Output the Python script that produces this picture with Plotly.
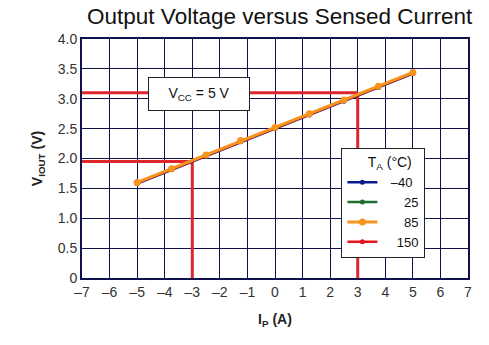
import plotly.graph_objects as go

# Data
ip_amps = [-5, -3.75, -2.5, -1.25, 0, 1.25, 2.5, 3.75, 5]
v_m40 = [1.58, 1.81, 2.04, 2.28, 2.50, 2.73, 2.96, 3.19, 3.42]
v_25 = [1.59, 1.82, 2.05, 2.29, 2.51, 2.74, 2.97, 3.20, 3.43]
v_150 = [1.59, 1.82, 2.05, 2.29, 2.51, 2.74, 2.97, 3.20, 3.43]
v_85 = [1.60, 1.83, 2.06, 2.30, 2.52, 2.75, 2.98, 3.21, 3.44]
series_names = ["\u2007\u200a\u201340", "\u2007\u2007\u200725", "\u2007\u2007\u200785", "\u2007\u2007150"]
series_colors = ["#0a1a8c", "#1e6e32", "#f7941d", "#e8141c"]

x_ticks = list(range(-7, 8))
x_ticktext = [("\u2013" + str(-v)) if v < 0 else str(v) for v in x_ticks]
y_ticks = [0, 0.5, 1.0, 1.5, 2.0, 2.5, 3.0, 3.5, 4.0]
y_ticktext = ["0", "0.5", "1.0", "1.5", "2.0", "2.5", "3.0", "3.5", "4.0"]

# Guide lines (operating points)
guide_low = (-3, 1.95)
guide_high = (3, 3.1)

fig = go.Figure()
series = [v_m40, v_25, v_85, v_150]
order = [0, 1, 3, 2]
for i in order:
    fig.add_trace(go.Scatter(
        x=ip_amps, y=series[i], name=series_names[i],
        mode="lines+markers",
        line=dict(color=series_colors[i], width=3 if i == 2 else 2.5),
        marker=dict(color=series_colors[i], size=7 if i == 2 else 5),
        legendrank=i,
    ))

for (gx, gy) in [guide_low, guide_high]:
    fig.add_shape(type="line", x0=-7, x1=gx, y0=gy, y1=gy,
                  line=dict(color="#e0242c", width=3), layer="between")
    fig.add_shape(type="line", x0=gx, x1=gx, y0=0, y1=gy,
                  line=dict(color="#e0242c", width=3), layer="between")

fig.add_annotation(
    x=-2.75, y=3.08, xref="x", yref="y",
    text="V<sub>CC</sub> = 5 V", showarrow=False,
    font=dict(size=14, color="#111"),
    bgcolor="white", bordercolor="#222", borderwidth=1,
    borderpad=7, width=86,
)

font_family = "Liberation Sans, Arial, sans-serif"
grid_color = "#10104a"

fig.update_layout(
    width=489, height=345,
    margin=dict(l=82, r=21, t=39, b=67),
    paper_bgcolor="white", plot_bgcolor="white",
    font=dict(family=font_family, color="#222", size=14),
    title=dict(text="Output Voltage versus Sensed Current",
               x=0.572, xanchor="center", y=0.952, yanchor="middle",
               font=dict(size=22.5, color="#111")),
    showlegend=True,
    legend=dict(
        title=dict(text="\u2007\u2007\u2007T<sub>A</sub> (\u00b0C)", font=dict(size=14, color="#111"), side="top"),
        x=0.672, y=0.544, xanchor="left", yanchor="top",
        bgcolor="white", bordercolor="#222", borderwidth=1,
        font=dict(size=13, color="#111"),
        tracegroupgap=0, itemwidth=30,
    ),
    xaxis=dict(
        range=[-7, 7], tickmode="array", tickvals=x_ticks, ticktext=x_ticktext,
        showgrid=True, gridcolor=grid_color, gridwidth=1,
        showline=True, linecolor=grid_color, linewidth=2, mirror=True,
        zeroline=False, ticks="", tickfont=dict(size=14, color="#333"),
        title=dict(text="<b>I<sub>P</sub> (A)</b>", font=dict(size=14, color="#222"), standoff=15),
    ),
    yaxis=dict(
        range=[0, 4], tickmode="array", tickvals=y_ticks, ticktext=y_ticktext,
        showgrid=True, gridcolor=grid_color, gridwidth=1,
        showline=True, linecolor=grid_color, linewidth=2, mirror=True,
        zeroline=False, ticks="", tickfont=dict(size=14, color="#333"),
        title=dict(text="<b>V<sub>IOUT</sub> (V)</b>", font=dict(size=14, color="#222"), standoff=12),
    ),
)

fig.write_html("out.html")
